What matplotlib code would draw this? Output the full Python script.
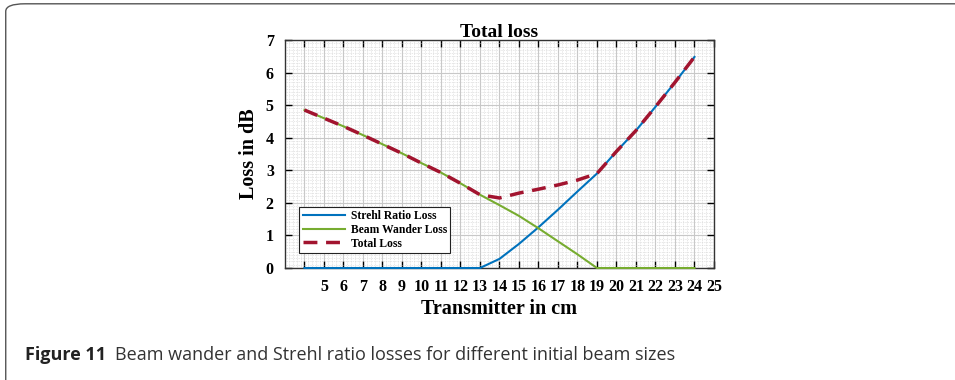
import numpy as np
import matplotlib.pyplot as plt
from matplotlib.patches import FancyBboxPatch
from matplotlib.ticker import MultipleLocator

# transmitter aperture (cm)
tx_cm = [4, 5, 6, 7, 8, 9, 10, 11, 12, 13, 14, 15, 16, 17, 18, 19, 20, 21, 22, 23, 24]
strehl_loss = [0, 0, 0, 0, 0, 0, 0, 0, 0, 0, 0.28, 0.74, 1.25, 1.79, 2.35, 2.9,
               3.58, 4.22, 4.95, 5.7, 6.48]
wander_loss = [4.85, 4.6, 4.35, 4.08, 3.8, 3.52, 3.22, 2.93, 2.6, 2.25, 1.93, 1.6,
               1.22, 0.82, 0.42, 0, 0, 0, 0, 0, 0]
total_loss = [4.85, 4.6, 4.35, 4.08, 3.8, 3.52, 3.22, 2.93, 2.6, 2.25, 2.15, 2.3,
              2.42, 2.55, 2.7, 2.9, 3.58, 4.22, 4.95, 5.7, 6.48]
xtick_vals = list(range(4, 26))
xtick_labels = [''] + [str(v) for v in range(5, 26)]

serif = ['Liberation Serif', 'DejaVu Serif']
sans = ['Open Sans', 'DejaVu Sans']

fig = plt.figure(figsize=(9.55, 3.8), dpi=100)

# rounded panel frame
frame = FancyBboxPatch((0.006, -0.05), 1.1, 1.04, transform=fig.transFigure,
                       boxstyle='round,pad=0,rounding_size=0.02',
                       fc='white', ec='#555555', lw=1.0, zorder=-1)
fig.patches.append(frame)

ax = fig.add_axes([0.2984, 0.2947, 0.4492, 0.6])
ax.plot(tx_cm, strehl_loss, color='#0072BD', lw=1.5, label='Strehl Ratio Loss',
        clip_on=False, zorder=4)
ax.plot(tx_cm, wander_loss, color='#77AC30', lw=1.5, label='Beam Wander Loss',
        clip_on=False, zorder=4)
ax.plot(tx_cm, total_loss, color='#A2142F', lw=2.5, ls=(0, (4, 2.5)), label='Total Loss',
        zorder=5)

ax.set_xlim(3, 25)
ax.set_ylim(0, 7)
ax.set_xticks(xtick_vals)
ax.set_xticklabels(xtick_labels)
ax.set_yticks(range(0, 8))
ax.xaxis.set_minor_locator(MultipleLocator(0.2))
ax.yaxis.set_minor_locator(MultipleLocator(0.1))
ax.tick_params(which='major', direction='in', top=True, right=True, length=5,
               width=1.0, labelsize=11.5, pad=8)
ax.tick_params(which='minor', length=0)
for lab in ax.get_xticklabels() + ax.get_yticklabels():
    lab.set_family(serif)
    lab.set_fontweight('bold')

ax.grid(which='major', color='#c8c8c8', lw=0.8)
ax.grid(which='minor', color='#d0d0d0', lw=0.5, ls=(0, (1, 1.5)))
ax.set_axisbelow(True)
for s in ax.spines.values():
    s.set_color('#333333')
    s.set_linewidth(1.0)

ax.set_title('Total loss', family=serif, fontweight='bold', fontsize=14, pad=2)
ax.set_xlabel('Transmitter in cm', family=serif, fontweight='bold', fontsize=14.5, labelpad=3)
ax.set_ylabel('Loss in dB', family=serif, fontweight='bold', fontsize=14.5, labelpad=5)

leg = ax.legend(loc='lower left', bbox_to_anchor=(0.02, 0.04), fancybox=False,
                framealpha=1, edgecolor='#222222', handlelength=3.6,
                borderpad=0.3, labelspacing=0.15, handletextpad=0.5,
                prop={'family': serif, 'weight': 'bold', 'size': 8.4})
leg.get_frame().set_linewidth(0.8)

fig.text(0.026, 0.065, 'Figure 11', family=sans, fontweight='bold', fontsize=13,
         color='#222222', va='center')
fig.text(0.12, 0.065, 'Beam wander and Strehl ratio losses for different initial beam sizes',
         family=sans, fontsize=13, color='#333333', va='center')

fig.savefig('out.png', dpi=100)
